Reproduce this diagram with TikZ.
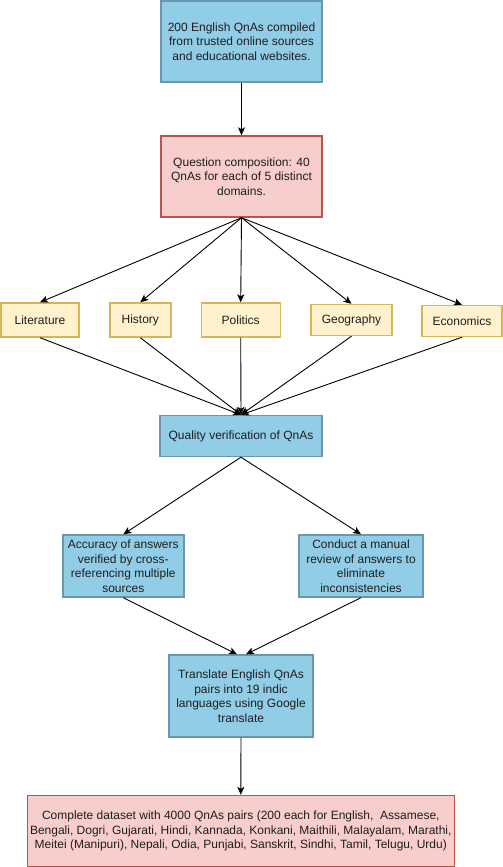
\documentclass[tikz,border=0pt]{standalone}
\usepackage{fontspec}
\setmainfont{Liberation Sans}
\usetikzlibrary{arrows.meta,calc}
\definecolor{bluefill}{RGB}{145,205,230}
\definecolor{bluedraw}{RGB}{108,150,172}
\definecolor{pinkfill}{RGB}{248,206,204}
\definecolor{pinkdraw}{RGB}{184,84,80}
\definecolor{yelfill}{RGB}{255,242,204}
\definecolor{yeldraw}{RGB}{214,182,86}
\definecolor{txt}{RGB}{30,30,30}
\tikzset{
  box/.style={draw, line width=1.4pt, align=center, inner sep=0pt, text=txt,
    font=\fontsize{12}{14.5}\selectfont},
  bluebox/.style={box, fill=bluefill, draw=bluedraw},
  pinkbox/.style={box, fill=pinkfill, draw=pinkdraw},
  yelbox/.style={box, fill=yelfill, draw=yeldraw},
  conn/.style={line width=0.9pt, -{Stealth[length=8pt,width=7pt,inset=2pt]}},
  plain/.style={line width=0.9pt}
}
\begin{document}
\begin{tikzpicture}[x=1pt,y=-1pt]
\useasboundingbox (0,0) rectangle (503,867);
\node[bluebox, minimum width=161pt, minimum height=81pt] (b1) at (241.5,41.5)
  {200 English QnAs compiled\\from trusted online sources\\and educational websites.};
\node[pinkbox, minimum width=161pt, minimum height=81pt] (b2) at (241.5,176.5)
  {Question composition: 40\\QnAs for each of 5 distinct\\domains.};
\node[yelbox, minimum width=78pt, minimum height=34pt] (lit) at (40,320) {Literature};
\node[yelbox, minimum width=61pt, minimum height=34pt] (hist) at (140.3,320) {History};
\node[yelbox, minimum width=79pt, minimum height=34pt] (pol) at (240.7,320) {Politics};
\node[yelbox, minimum width=81pt, minimum height=31pt] (geo) at (351.5,320) {Geography};
\node[yelbox, minimum width=80pt, minimum height=31pt] (econ) at (462,321) {Economics};
\node[bluebox, minimum width=162pt, minimum height=41pt] (qual) at (241,436) {Quality verification of QnAs};
\node[bluebox, minimum width=121pt, minimum height=62pt] (acc) at (123.3,566)
  {Accuracy of answers\\verified by cross-\\referencing multiple\\sources};
\node[bluebox, minimum width=124pt, minimum height=62pt] (cond) at (361,566)
  {Conduct a manual\\review of answers to\\eliminate\\inconsistencies};
\node[bluebox, minimum width=144pt, minimum height=82pt] (trans) at (241,696)
  {Translate English QnAs\\pairs into 19 indic\\languages using Google\\translate};
\node[pinkbox, minimum width=427pt, minimum height=71pt] (fin) at (240.8,831)
  {Complete dataset with 4000 QnAs pairs (200 each for English,\ \ Assamese,\\Bengali, Dogri, Gujarati, Hindi, Kannada, Konkani, Maithili, Malayalam, Marathi,\\Meitei (Manipuri), Nepali, Odia, Punjabi, Sanskrit, Sindhi, Tamil, Telugu, Urdu)};

\draw[conn] (b1.south) -- (b2.north);
\foreach \n in {lit,hist,pol,geo,econ}{
  \draw[conn] (b2.south) -- (\n.north);
  \draw[conn] (\n.south) -- (qual.north);
}
\draw[conn] (qual.south) -- (acc.north);
\draw[conn] (qual.south) -- (cond.north);
\draw[conn] (acc.south) -- ($(trans.north)+(-4,0)$);
\draw[conn] (cond.south) -- ($(trans.north)+(5,0)$);
\draw[conn] (trans.south) -- (fin.north);
\end{tikzpicture}
\end{document}
